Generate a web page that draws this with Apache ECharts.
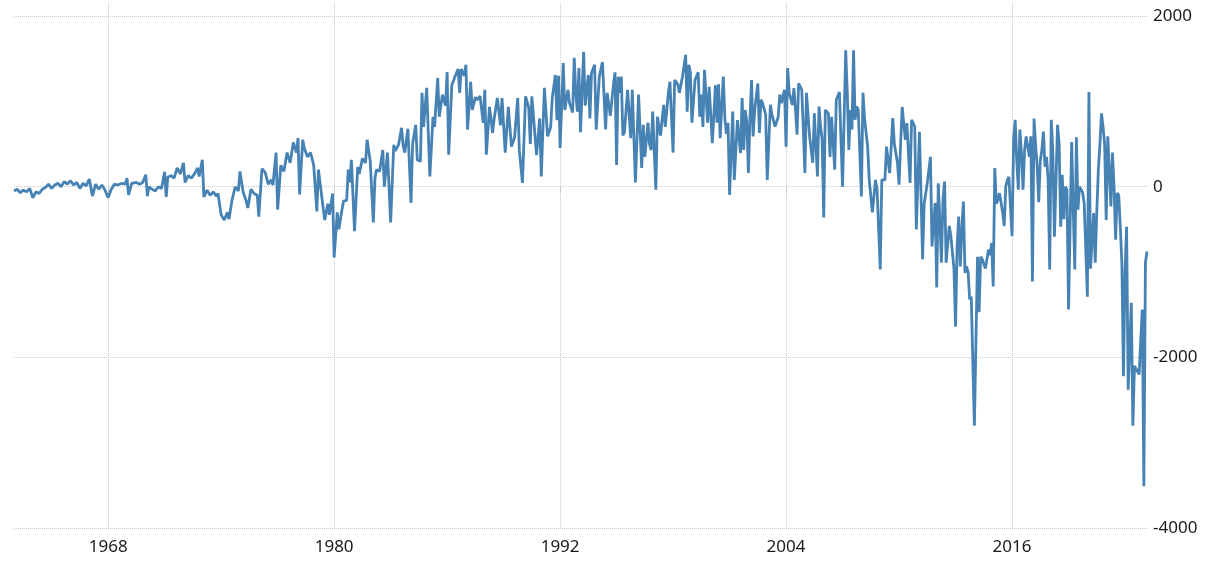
<!DOCTYPE html>
<html><head><meta charset="utf-8">
<script src="https://cdn.jsdelivr.net/npm/echarts@6/dist/echarts.min.js"></script>
<style>html,body{margin:0;padding:0;background:#fff}#c{width:1206px;height:563px}</style>
</head><body><div id="c"></div>
<script>
// month offsets from Jan 1963
const months = [
0,2,4,6,8,10,12,14,16,18,20,22,24,26,28,30,32,34,36,38,40,42,44,46,48,50,52,54,56,58,60,
62,64,66,69,71,72,73,75,78,80,82,84,85,86,88,90,92,94,96,97,98,100,102,104,106,108,109,111,113,115,117,118,120,121,123,125,127,129,130,
132,134,136,137,139,141,143,144,146,148,149,151,153,155,156,158,160,162,164,165,167,168,170,172,174,176,178,180,181,182,184,185,187,189,191,193,194,196,
198,200,201,203,204,206,207,209,210,212,213,214,215,217,219,220,222,224,225,227,229,230,231,233,235,236,238,240,242,243,245,247,248,249,251,253,254,256,257,259,260,261,263,265,
267,268,270,271,273,275,276,277,279,281,283,284,285,287,288,289,291,292,294,295,297,299,300,301,303,305,306,308,310,311,313,315,316,317,319,321,322,324,326,328,329,330,332,
333,335,336,338,340,342,343,345,346,347,348,350,351,353,354,356,357,358,359,360,361,363,364,366,367,368,370,371,373,375,377,378,380,382,383,384,385,386,387,388,389,391,393,394,396,398,
400,401,402,404,405,406,407,409,410,412,413,414,415,417,418,420,421,423,424,426,428,429,430,431,432,434,436,437,438,439,440,442,443,445,447,448,449,450,452,453,454,455,456,458,459,461,
463,464,465,466,467,468,469,470,471,472,474,475,476,477,479,480,482,483,485,487,488,489,491,492,493,494,496,497,498,499,500,502,503,504,505,507,509,510,512,513,514,515,516,517,519,520,521,523,524,526,528,530,531,532,
533,534,535,536,537,538,540,541,542,544,545,547,549,550,552,553,555,556,558,559,560,561,563,564,565,566,568,569,571,572,574,575,577,579,580,582,584,585,587,588,589,590,591,592,593,594,596,597,
598,599,600,601,602,603,604,605,606,607,608,609,610,611,612,614,615,616,617,619,620,621,622,623,624,625,626,627,628,630,631,632,633,634,635,636,637,638,639,640,641,642,643,644,645,647,648,649,650,651,652,653,654,655,656,657,658,659,660,
661,662,663,665,666,667,668,669,670,671,672,674,675,676,677,678,679,680,681,682,684,685,686,688,689,690,691,692,693,694,695,696,697,698,699,700,701,702,703,704,705,706,707,708,709,710,712,713,714,715,717,718,719,720,721,722
];
const values = [
-50,-30,-70,-40,-60,-20,-130,-60,-80,-30,-10,30,-20,20,40,0,60,30,70,20,50,-20,40,10,90,-110,30,-30,20,-40,-130,
-30,30,20,40,30,100,-95,40,50,30,50,140,-110,0,-30,-50,0,-20,175,-120,110,130,100,220,150,280,50,130,100,150,220,120,315,-120,-40,-100,-60,-110,-80,
-330,-390,-300,-380,-150,0,-50,180,-60,-170,-250,-30,-80,-100,-350,210,170,30,80,20,400,-270,250,180,400,280,520,400,570,-90,550,450,350,400,250,-290,200,-100,
-390,-200,-330,-80,-830,-300,-500,-270,-170,-160,200,50,315,-520,230,150,330,280,550,300,-420,100,200,180,430,0,400,-420,490,420,490,690,480,400,680,-190,500,725,315,300,1100,700,1160,120,
820,700,1275,820,1080,950,1345,375,1190,1290,1380,1100,1380,1300,1430,670,1230,900,1050,1020,1060,750,1135,375,935,630,800,1040,720,1040,400,935,700,470,580,1040,430,45,1060,930,500,1060,600,
370,800,120,1160,590,700,1040,1310,780,1300,455,1450,900,1135,980,870,1510,1100,880,1390,640,1580,950,1310,800,1330,1430,670,1290,1460,670,1100,830,1200,1340,255,1290,1100,1290,600,640,1135,570,1135,50,1080,
220,725,350,750,500,430,880,-35,820,600,785,960,700,1100,1230,400,1250,1200,1100,1290,1545,880,1430,1340,750,1250,1340,820,1080,700,1370,750,1170,510,1190,750,1200,570,1290,800,620,750,-95,880,80,780,
395,1040,430,900,760,160,800,1250,590,900,1210,630,1020,980,845,80,960,845,705,820,1080,980,1135,470,1390,1100,960,1155,900,610,1210,1135,670,160,1100,590,280,860,120,940,700,550,-360,900,860,350,820,200,1020,1110,0,1600,1100,430,
900,670,1600,785,940,900,-115,1100,800,470,80,-300,80,-35,-970,80,80,470,160,470,805,500,280,25,500,935,550,745,45,785,705,-500,645,-850,-200,45,350,-700,-190,-1180,40,-400,-890,-150,60,-890,-460,-580,
-580,-960,-1640,-700,-350,-935,-500,-175,-1010,-935,-1000,-1320,-1290,-1300,-2800,-820,-1470,-820,-850,-960,-850,-740,-800,-660,-1170,220,-200,-150,-75,-300,-460,0,80,115,100,-580,550,785,300,-35,670,400,-35,430,590,350,590,-1110,800,500,235,-180,300,430,645,235,350,80,-970,
785,400,-585,725,500,-470,140,-380,0,-35,-1440,525,-270,-970,580,-270,0,0,-70,-200,-1290,1110,-960,-310,-890,-300,200,500,860,700,500,-390,590,200,-230,400,0,-620,-75,-100,-470,-900,-2220,-1000,-470,-2380,-1360,-2800,-2100,-2100,-2200,-1800,-1440,-3510,-890,-760
];
const startYear = 1963;
const xTickYears = [1968, 1980, 1992, 2004, 2016];
const yTicks = [-4000, -2000, 0, 2000];

const data = months.map((m, i) => [startYear + m / 12, values[i]]);
const FONT = 'Noto Sans';
const chart = echarts.init(document.getElementById('c'), null, { renderer: 'canvas' });
chart.setOption({
  animation: false,
  backgroundColor: '#ffffff',
  grid: { left: 14, right: 59, top: 2, bottom: 35, containLabel: false },
  xAxis: {
    type: 'value',
    min: startYear,
    max: startYear + months[months.length - 1] / 12,
    axisLine: { show: false },
    axisTick: { show: true, customValues: xTickYears, length: 6, lineStyle: { color: '#c8c8c8' } },
    axisLabel: { customValues: xTickYears, formatter: v => String(v), color: '#1a1a1a', fontSize: 17, fontFamily: FONT, margin: 11 },
    splitLine: { show: false }
  },
  yAxis: {
    type: 'value',
    position: 'right',
    min: -4000,
    max: 2165,
    interval: 2000,
    axisLine: { show: false },
    axisTick: { show: false },
    axisLabel: {
      showMaxLabel: false, align: 'left', margin: 6, color: '#1a1a1a', fontSize: 17, fontFamily: FONT,
      formatter: v => (yTicks.indexOf(v) >= 0 ? String(v) : '')
    },
    splitLine: { show: true, showMaxLine: false, lineStyle: { type: 'dotted', color: '#c8c8c8', width: 1 } }
  },
  series: [{
    type: 'line',
    data: data,
    showSymbol: false,
    symbol: 'none',
    lineStyle: { color: '#4682B4', width: 2.8 },
    itemStyle: { color: '#4682B4' },
    z: 3,
    markLine: {
      silent: true,
      symbol: 'none',
      z: 1,
      label: { show: false },
      lineStyle: { type: 'dotted', color: '#c8c8c8', width: 1 },
      data: xTickYears.map(y => ({ xAxis: y }))
    }
  }]
});
</script></body></html>
